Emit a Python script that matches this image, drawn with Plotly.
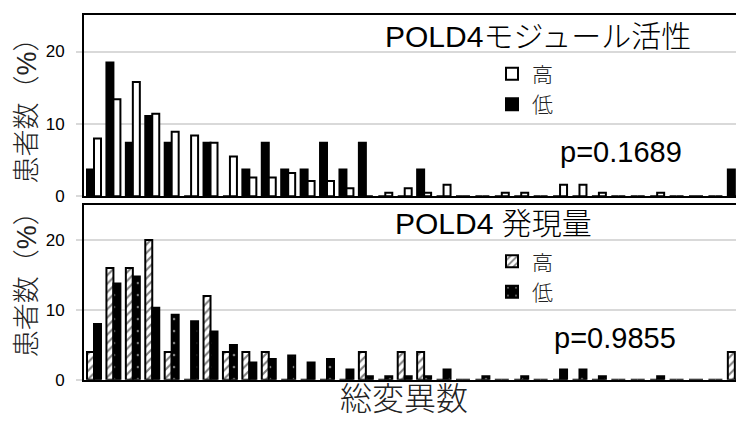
import plotly.graph_objects as go

# ---- data (% of patients) ----
bins = list(range(34))  # total mutation count bins (no tick labels shown)

# top panel: POLD4 module activity
mod_low = [3.7, 18.5, 7.4, 11.1, 7.4, 0, 7.4, 0, 3.7, 7.4, 3.7, 3.7, 7.4, 3.7, 7.4,
           0, 0, 3.7, 0, 0, 0, 0, 0, 0, 0, 0, 0, 0, 0, 0, 0, 0, 0, 3.7]
mod_high = [8.0, 13.4, 15.8, 11.4, 8.9, 8.4, 7.4, 5.5, 2.6, 2.6, 3.2, 2.1, 2.1, 1.1, 0,
            0.5, 1.1, 0.5, 1.6, 0, 0, 0.5, 0.5, 0, 1.6, 1.6, 0.5, 0, 0, 0.5, 0, 0, 0, 0]

# bottom panel: POLD4 expression
exp_high = [4.0, 16.0, 16.0, 20.0, 4.0, 0, 12.0, 4.0, 4.0, 4.0, 0, 0, 0, 0, 4.0,
            0, 4.0, 4.0, 0, 0, 0, 0, 0, 0, 0, 0, 0, 0, 0, 0, 0, 0, 0, 4.0]
exp_low = [8.0, 13.8, 14.8, 10.3, 9.3, 8.4, 6.9, 5.0, 2.5, 3.0, 3.5, 2.5, 3.0, 1.5, 0.5,
           0.5, 0.5, 0.5, 1.5, 0, 0.5, 0, 0.5, 0, 1.5, 1.5, 0.5, 0, 0, 0.5, 0, 0, 0, 0]

labels = ["高", "低"]
gene = "POLD4"
title_suffix = ["モジュール活性", " 発現量"]
pvals = ["p=0.1689", "p=0.9855"]
ytitle = "患者数（%）"
xtitle = "総変異数"
yticks = [0, 10, 20]

W, H = 736, 426
L = 84
FONT = "Liberation Sans, Arial, Noto Sans CJK JP, sans-serif"


def px_x(px):
    return (px - L) / (W - L)


def px_y(py):
    return 1 - py / H


fig = go.Figure()

# top panel bars (low drawn left, high right)
fig.add_trace(go.Bar(x=bins, y=mod_low, name=labels[1], xaxis="x", yaxis="y",
                     marker=dict(color="black", line=dict(color="black", width=2)),
                     legend="legend", legendrank=2))
fig.add_trace(go.Bar(x=bins, y=mod_high, name=labels[0], xaxis="x", yaxis="y",
                     marker=dict(color="white", line=dict(color="black", width=2)),
                     legend="legend", legendrank=1))

# bottom panel bars (high hatched left, low dotted right)
fig.add_trace(go.Bar(x=bins, y=exp_high, name=labels[0], xaxis="x2", yaxis="y2",
                     marker=dict(color="white", line=dict(color="black", width=2),
                                 pattern=dict(shape="/", fgcolor="black", bgcolor="white",
                                              size=6, solidity=0.35)),
                     legend="legend2", legendrank=1))
fig.add_trace(go.Bar(x=bins, y=exp_low, name=labels[1], xaxis="x2", yaxis="y2",
                     marker=dict(color="black", line=dict(color="black", width=2),
                                 pattern=dict(shape=".", fgcolor="white", bgcolor="black",
                                              size=12, solidity=0.04)),
                     legend="legend2", legendrank=2))

xrange = [-0.515, 33.06]
xcommon = dict(range=xrange, showticklabels=False, ticks="", showgrid=False,
               zeroline=False, showline=True, linecolor="black", linewidth=2,
               mirror=True, domain=[0, 1])
ycommon = dict(range=[0, 25], tickvals=yticks, ticks="outside", ticklen=6,
               tickcolor="#d9d9d9", tickwidth=2, ticklabelstandoff=8,
               showgrid=True, gridcolor="#d9d9d9", gridwidth=2, zeroline=False,
               showline=True, linecolor="black", linewidth=2,
               tickfont=dict(size=17, color="black", family=FONT))

LEGFONT = dict(size=21, family=FONT, color="#222", weight=300)

fig.update_layout(
    width=W, height=H,
    margin=dict(l=L, r=0, t=0, b=0),
    paper_bgcolor="white", plot_bgcolor="white",
    barmode="group", bargap=0.28, bargroupgap=0,
    font=dict(family=FONT, color="black"),
    xaxis=dict(anchor="y", **xcommon),
    xaxis2=dict(anchor="y2", **xcommon),
    yaxis=dict(anchor="x", domain=[px_y(201), px_y(15.7)], **ycommon),
    yaxis2=dict(anchor="x2", domain=[px_y(389), px_y(210)], **ycommon),
    legend=dict(x=px_x(492), y=px_y(55), xanchor="left", yanchor="top",
                font=LEGFONT, bgcolor="rgba(0,0,0,0)", tracegroupgap=0, itemwidth=30),
    legend2=dict(x=px_x(492), y=px_y(247), xanchor="left", yanchor="top",
                 font=LEGFONT, bgcolor="rgba(0,0,0,0)", tracegroupgap=0, itemwidth=30),
    showlegend=True,
)


def title_text(suffix):
    return gene + '<span style="font-weight:300">' + suffix + "</span>"


ann = [
    dict(text=title_text(title_suffix[0]), x=px_x(538), y=px_y(37), font=dict(size=30)),
    dict(text=title_text(title_suffix[1]), x=px_x(493), y=px_y(229), font=dict(size=30)),
    dict(text=pvals[0], x=px_x(621), y=px_y(156), font=dict(size=29)),
    dict(text=pvals[1], x=px_x(615), y=px_y(346), font=dict(size=29)),
    dict(text=ytitle, x=px_x(27), y=px_y(107), font=dict(size=27, color="#222", weight=300),
         textangle=-90),
    dict(text=ytitle, x=px_x(27), y=px_y(285), font=dict(size=27, color="#222", weight=300),
         textangle=-90),
    dict(text=xtitle, x=px_x(404), y=px_y(409), font=dict(size=32, color="#222", weight=300)),
]
for a in ann:
    fig.add_annotation(xref="paper", yref="paper", showarrow=False,
                       xanchor="center", yanchor="middle", **a)

fig.write_html("out.html", config={"displayModeBar": False},
               post_script="document.body.style.margin='0';document.body.style.padding='0';"
                           "document.documentElement.style.overflow='hidden';")
